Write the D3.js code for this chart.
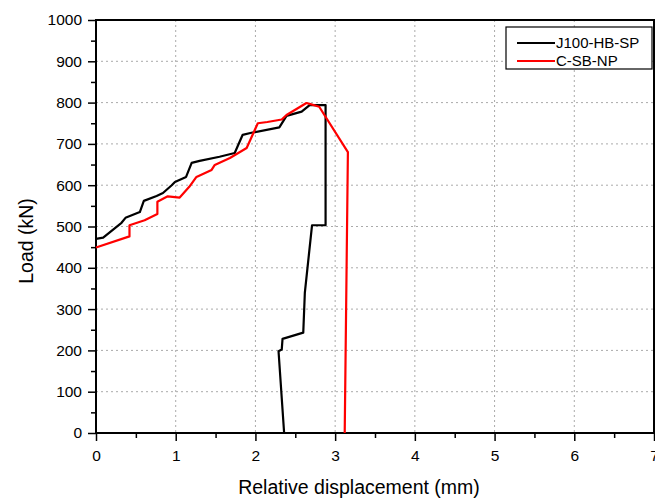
<!DOCTYPE html>
<html>
<head>
<meta charset="utf-8">
<script src="https://cdn.jsdelivr.net/npm/d3@7"></script>
<style>
  body { margin: 0; background: #fff; }
  text { font-family: "Liberation Sans", Arial, sans-serif; fill: #000; }
</style>
</head>
<body>
<svg></svg>
<script>
const width = 655
const height = 498
const margin = { left: 96, top: 20, right: 1, bottom: 65 }
const innerW = width - margin.left - margin.right
const innerH = height - margin.top - margin.bottom

// J100-HB-SP (black) as [displacement, load]
const j100 = [
  [0, 470], [0.09, 473], [0.32, 509], [0.37, 521], [0.55, 535], [0.6, 562],
  [0.76, 574], [0.84, 581], [0.95, 600], [0.99, 608], [1.13, 620], [1.2, 654],
  [1.3, 659], [1.55, 669], [1.74, 678], [1.84, 722], [1.95, 727], [2.3, 740],
  [2.39, 768], [2.58, 778], [2.68, 794], [2.88, 794], [2.88, 503], [2.71, 503],
  [2.62, 340], [2.6, 243], [2.34, 228], [2.33, 202], [2.29, 198], [2.36, 0]
]

// C-SB-NP (red)
const csb = [
  [0, 449], [0.42, 476], [0.42, 503], [0.61, 515], [0.77, 530], [0.77, 560],
  [0.9, 573], [1.05, 570], [1.17, 596], [1.26, 620], [1.45, 637], [1.49, 649],
  [1.68, 666], [1.89, 690], [2.03, 750], [2.15, 753], [2.33, 759], [2.39, 770],
  [2.64, 799], [2.68, 797], [2.8, 790], [3.16, 680], [3.12, 0]
]

const seriesNames = ['J100-HB-SP', 'C-SB-NP']
const seriesColors = ['#000000', '#ff0000']
const xTicks = [0, 1, 2, 3, 4, 5, 6, 7]
const yTicks = [0, 100, 200, 300, 400, 500, 600, 700, 800, 900, 1000]

const svg = d3.select('svg')
  .attr('width', width)
  .attr('height', height)

const g = svg.append('g')
  .attr('transform', `translate(${margin.left},${margin.top})`)

const x = d3.scaleLinear().domain([0, 7]).range([0, innerW])
const y = d3.scaleLinear().domain([0, 1000]).range([innerH, 0])

// dashed grid
g.append('g')
  .selectAll('line')
  .data(xTicks.slice(1, -1))
  .join('line')
    .attr('x1', d => x(d)).attr('x2', d => x(d))
    .attr('y1', 0).attr('y2', innerH)
    .attr('stroke', '#aaa')
    .attr('stroke-dasharray', '2,3')

g.append('g')
  .selectAll('line')
  .data(yTicks.slice(1, -1))
  .join('line')
    .attr('y1', d => y(d)).attr('y2', d => y(d))
    .attr('x1', 0).attr('x2', innerW)
    .attr('stroke', '#aaa')
    .attr('stroke-dasharray', '2,3')

// minor ticks
const xMinor = d3.range(0.5, 7, 1)
const yMinor = d3.range(50, 1000, 100)

g.append('g')
  .attr('transform', `translate(0,${innerH})`)
  .call(d3.axisBottom(x).tickValues(xMinor).tickSize(5).tickFormat(''))
  .call(a => a.select('.domain').remove())
  .selectAll('line').attr('stroke-width', 1.5)

g.append('g')
  .call(d3.axisLeft(y).tickValues(yMinor).tickSize(5).tickFormat(''))
  .call(a => a.select('.domain').remove())
  .selectAll('line').attr('stroke-width', 1.5)

// major axes
const fmt = d3.format('d')

const xAxis = g.append('g')
  .attr('transform', `translate(0,${innerH})`)
  .call(d3.axisBottom(x).tickValues(xTicks).tickFormat(fmt).tickSize(8).tickSizeOuter(0).tickPadding(9))
xAxis.select('.domain').remove()
xAxis.selectAll('line').attr('stroke-width', 1.5)
xAxis.selectAll('text').attr('font-size', 15.5).attr('fill', '#000')

const yAxis = g.append('g')
  .call(d3.axisLeft(y).tickValues(yTicks).tickFormat(fmt).tickSize(8).tickSizeOuter(0).tickPadding(6))
yAxis.select('.domain').remove()
yAxis.selectAll('line').attr('stroke-width', 1.5)
yAxis.selectAll('text').attr('font-size', 15.5).attr('fill', '#000')

// frame
g.append('rect')
  .attr('width', innerW)
  .attr('height', innerH)
  .attr('fill', 'none')
  .attr('stroke', '#000')
  .attr('stroke-width', 2)

// curves
const line = d3.line().x(d => x(d[0])).y(d => y(d[1]))

g.selectAll('path.series')
  .data([j100, csb])
  .join('path')
    .attr('class', 'series')
    .attr('d', line)
    .attr('fill', 'none')
    .attr('stroke', (d, i) => seriesColors[i])
    .attr('stroke-width', 2.2)
    .attr('stroke-linejoin', 'round')

// legend
const legend = svg.append('g').attr('transform', 'translate(506,27)')
legend.append('rect')
  .attr('width', 146)
  .attr('height', 42)
  .attr('fill', '#fff')
  .attr('stroke', '#000')
  .attr('stroke-width', 1.2)

seriesNames.forEach((name, i) => {
  const ly = 16 + i * 18
  legend.append('line')
    .attr('x1', 11).attr('x2', 49)
    .attr('y1', ly).attr('y2', ly)
    .attr('stroke', seriesColors[i])
    .attr('stroke-width', 2)
  legend.append('text')
    .attr('x', 50)
    .attr('y', ly)
    .attr('dy', '0.35em')
    .attr('font-size', 15)
    .text(name)
})

// titles
svg.append('text')
  .attr('x', 359)
  .attr('y', 494)
  .attr('text-anchor', 'middle')
  .attr('font-size', 19.5)
  .text('Relative displacement (mm)')

svg.append('text')
  .attr('transform', `translate(33,241) rotate(-90)`)
  .attr('text-anchor', 'middle')
  .attr('font-size', 19.5)
  .text('Load (kN)')
</script>
</body>
</html>
